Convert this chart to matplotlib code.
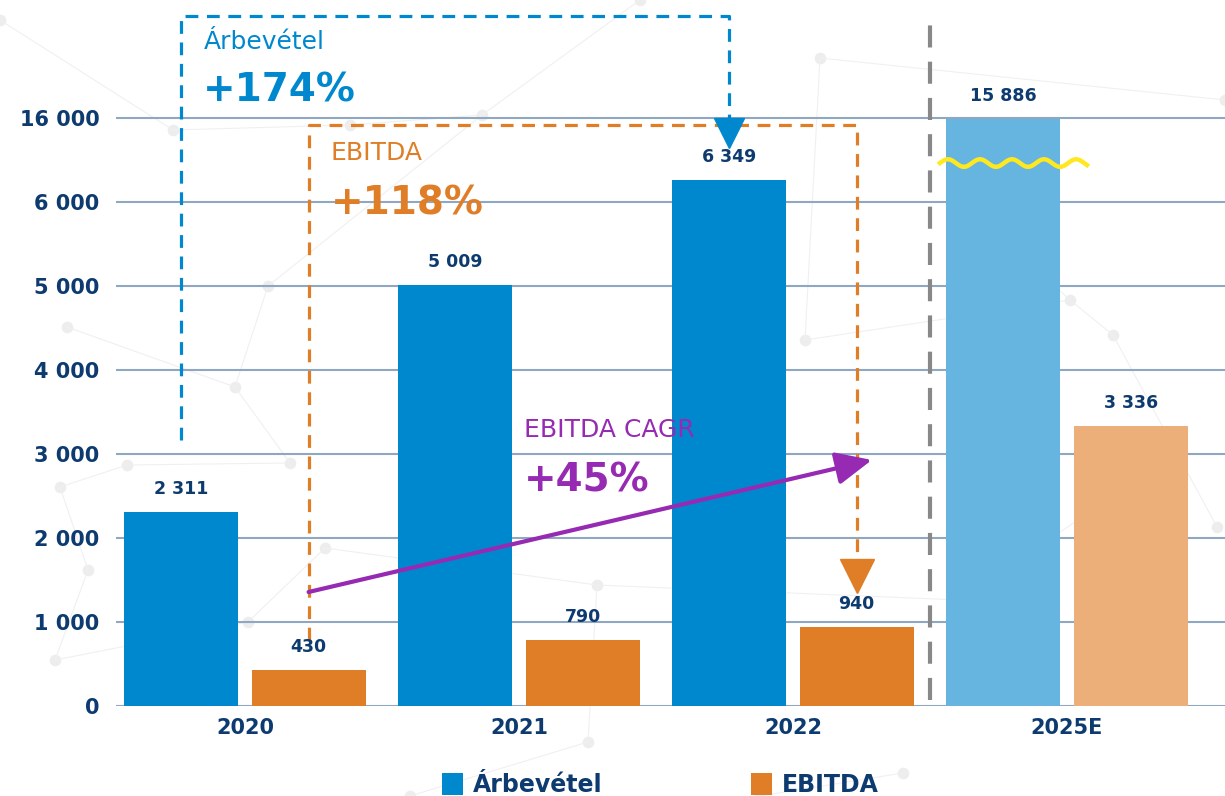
import numpy as np
import matplotlib.pyplot as plt

years = ["2020", "2021", "2022", "2025E"]
revenue = [2311, 5009, 6349, 15886]
ebitda = [430, 790, 940, 3336]

tick_vals = [0, 1000, 2000, 3000, 4000, 5000, 6000, 16000]
tick_labels = ["0", "1 000", "2 000", "3 000", "4 000", "5 000", "6 000", "16 000"]

blue = "#0088CF"
orange = "#E07E27"
blue_light = "#66B5E0"
orange_light = "#ECAF79"
navy = "#0D3B70"
purple = "#962AB2"
grid_c = "#90A7C2"

# broken axis: linear up to the break, compressed above it (16 000 sits one step above 6 000)
BRK = 6250
def pos(v):
    v = np.asarray(v, dtype=float)
    return np.where(v <= BRK, v, BRK + (v - BRK) * (7000 - BRK) / (16000 - BRK))

fmt = lambda v: f"{v:,}".replace(",", " ")

fig = plt.figure(figsize=(12.25, 7.96), dpi=100)

# faint network background
bg = fig.add_axes([0, 0, 1, 1], zorder=0)
bg.set_xlim(0, 1225)
bg.set_ylim(796, 0)
bg.axis("off")
nodes = [(173, 130), (67, 327), (235, 387), (290, 463), (127, 465), (60, 487), (88, 570),
         (55, 660), (248, 622), (325, 548), (268, 286), (482, 115), (820, 58), (805, 340),
         (1070, 300), (1113, 335), (1217, 527), (972, 210), (960, 600), (1100, 505),
         (1178, 645), (588, 742), (597, 585), (903, 773), (350, 125), (0, 20), (640, 0),
         (1225, 100), (410, 796), (760, 796)]
links = [(0, 24), (0, 25), (1, 2), (2, 3), (3, 4), (4, 5), (5, 6), (6, 7), (7, 8), (8, 9),
         (2, 10), (10, 11), (11, 26), (12, 13), (12, 27), (13, 14), (14, 15), (15, 16),
         (17, 14), (18, 19), (19, 20), (18, 22), (22, 21), (21, 28), (23, 29), (9, 22), (24, 11)]
for a, b in links:
    bg.plot([nodes[a][0], nodes[b][0]], [nodes[a][1], nodes[b][1]], color="#F0F0F0", lw=0.8)
bg.scatter([n[0] for n in nodes], [n[1] for n in nodes], s=70, color="#EDEDED", lw=0)

ax = fig.add_axes([116 / 1225, 90 / 796, 1109 / 1225, 706 / 796], zorder=1)
ax.patch.set_alpha(0)

x = np.arange(len(years))
w = 0.416
off = 0.232
rev_p = pos(revenue)
ebi_p = pos(ebitda)
ax.bar(x - off, rev_p, w, color=[blue, blue, blue, blue_light], zorder=3, label="Árbevétel")
ax.bar(x + off, ebi_p, w, color=[orange, orange, orange, orange_light], zorder=3, label="EBITDA")

for xi, v, p in zip(x - off, revenue, rev_p):
    ax.annotate(fmt(v), (xi, p), xytext=(0, 10), textcoords="offset points", ha="center",
                va="bottom", fontsize=12.5, fontweight="bold", color=navy, zorder=5)
for xi, v, p in zip(x + off, ebitda, ebi_p):
    ax.annotate(fmt(v), (xi, p), xytext=(0, 10), textcoords="offset points", ha="center",
                va="bottom", fontsize=12.5, fontweight="bold", color=navy, zorder=5)

ax.set_xlim(-0.4708, 3.5766)
ax.set_ylim(0, 8405)
ax.set_yticks(pos(tick_vals))
ax.set_yticklabels(tick_labels)
ax.set_xticks(x)
ax.set_xticklabels(years)
ax.yaxis.grid(True, color=grid_c, lw=1.5, zorder=1)
ax.tick_params(axis="y", length=0, pad=12, labelsize=15, labelcolor=navy)
ax.tick_params(axis="x", length=0, pad=9, labelsize=15, labelcolor=navy)
for t in ax.get_xticklabels() + ax.get_yticklabels():
    t.set_fontweight("bold")
for s in ax.spines.values():
    s.set_visible(False)

# separator before the estimate
ax.plot([2.5, 2.5], [71, 8167], color="#888888", lw=3, ls=(0, (5.3, 3.4)), zorder=2)

# revenue growth box
bx0, bx1 = x[0] - off, x[2] - off
ax.plot([bx0, bx0, bx1, bx1], [3167, 8214, 8214, 7000], color=blue, lw=2.3,
        ls=(0, (4, 2.7)), zorder=2)
ax.plot([bx1], [6827], marker="v", ms=22, color=blue, zorder=4)
ax.text(bx0 + 0.08, 7905, "Árbevétel", color=blue, fontsize=18, va="center", zorder=5)
ax.text(bx0 + 0.08, 7333, "+174%", color=blue, fontsize=28, fontweight="bold", va="center", zorder=5)

# EBITDA growth box
ox0, ox1 = x[0] + off, x[2] + off
ax.plot([ox0, ox0, ox1, ox1], [786, 6917, 6917, 1714], color=orange, lw=2.3,
        ls=(0, (4, 2.7)), zorder=2)
ax.plot([ox1], [1548], marker="v", ms=24, color=orange, zorder=4)
ax.text(ox0 + 0.08, 6583, "EBITDA", color=orange, fontsize=18, va="center", zorder=5)
ax.text(ox0 + 0.08, 5988, "+118%", color=orange, fontsize=28, fontweight="bold", va="center", zorder=5)

# CAGR arrow
ax.annotate("", xy=(2.288, 2929), xytext=(x[0] + off, 1357),
            arrowprops=dict(arrowstyle="-|>,head_length=1.1,head_width=0.5", color=purple,
                            lw=3, mutation_scale=20, shrinkA=0, shrinkB=0), zorder=6)
ax.text(1.018, 3286, "EBITDA CAGR", color=purple, fontsize=18, va="center", zorder=5)
ax.text(1.018, 2690, "+45%", color=purple, fontsize=28, fontweight="bold", va="center", zorder=5)

# axis-break wave on the 2025E revenue bar
wx = np.linspace(2.536, 3.073, 200)
wy = 6464 + 45 * np.sin((wx - 2.536) / 0.117 * 2 * np.pi)
ax.plot(wx, wy, color="#FFE81F", lw=3.2, zorder=6)

leg = fig.legend(loc="center", bbox_to_anchor=(0.539, 0.014), ncol=2, frameon=False,
                 handlelength=0.9, handleheight=1.1, handletextpad=0.4, columnspacing=6.3,
                 prop={"size": 17, "weight": "bold"})
for t in leg.get_texts():
    t.set_color(navy)

fig.savefig("out.png", dpi=100)
